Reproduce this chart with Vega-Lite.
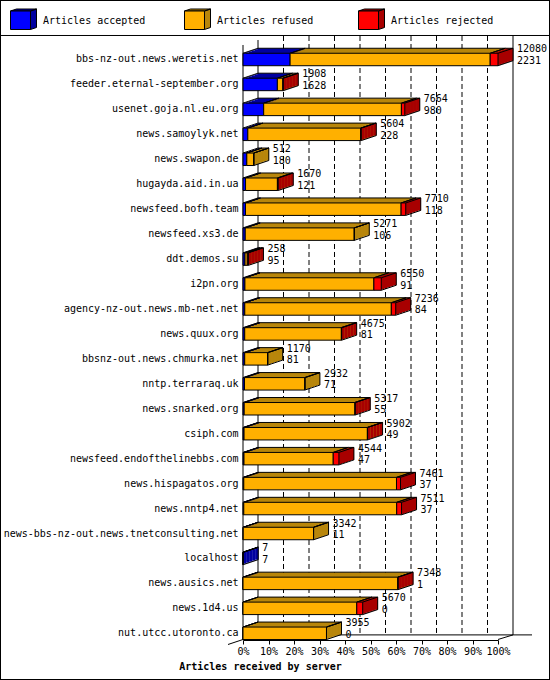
{
  "$schema": "https://vega.github.io/schema/vega-lite/v6.json",
  "width": 550,
  "height": 680,
  "autosize": {"type": "none"},
  "padding": 0,
  "background": "white",
  "datasets": {
    "servers": [
      {"server": "bbs-nz-out.news.weretis.net", "offered": 12080, "accepted": 2231, "refused": 9479, "rejected": 370},
      {"server": "feeder.eternal-september.org", "offered": 1908, "accepted": 1628, "refused": 260, "rejected": 20},
      {"server": "usenet.goja.nl.eu.org", "offered": 7664, "accepted": 980, "refused": 6524, "rejected": 160},
      {"server": "news.samoylyk.net", "offered": 5604, "accepted": 228, "refused": 5346, "rejected": 30},
      {"server": "news.swapon.de", "offered": 512, "accepted": 180, "refused": 332, "rejected": 0},
      {"server": "hugayda.aid.in.ua", "offered": 1670, "accepted": 121, "refused": 1509, "rejected": 40},
      {"server": "newsfeed.bofh.team", "offered": 7710, "accepted": 118, "refused": 7372, "rejected": 220},
      {"server": "newsfeed.xs3.de", "offered": 5271, "accepted": 106, "refused": 5165, "rejected": 0},
      {"server": "ddt.demos.su", "offered": 258, "accepted": 95, "refused": 110, "rejected": 53},
      {"server": "i2pn.org", "offered": 6550, "accepted": 91, "refused": 6109, "rejected": 350},
      {"server": "agency-nz-out.news.mb-net.net", "offered": 7236, "accepted": 84, "refused": 6942, "rejected": 210},
      {"server": "news.quux.org", "offered": 4675, "accepted": 81, "refused": 4579, "rejected": 15},
      {"server": "bbsnz-out.news.chmurka.net", "offered": 1170, "accepted": 81, "refused": 1089, "rejected": 0},
      {"server": "nntp.terraraq.uk", "offered": 2932, "accepted": 71, "refused": 2861, "rejected": 0},
      {"server": "news.snarked.org", "offered": 5317, "accepted": 55, "refused": 5247, "rejected": 15},
      {"server": "csiph.com", "offered": 5902, "accepted": 49, "refused": 5843, "rejected": 10},
      {"server": "newsfeed.endofthelinebbs.com", "offered": 4544, "accepted": 47, "refused": 4227, "rejected": 270},
      {"server": "news.hispagatos.org", "offered": 7461, "accepted": 37, "refused": 7234, "rejected": 190},
      {"server": "news.nntp4.net", "offered": 7511, "accepted": 37, "refused": 7244, "rejected": 230},
      {"server": "news-bbs-nz-out.news.tnetconsulting.net", "offered": 3342, "accepted": 11, "refused": 3331, "rejected": 0},
      {"server": "localhost", "offered": 7, "accepted": 7, "refused": 0, "rejected": 0},
      {"server": "news.ausics.net", "offered": 7348, "accepted": 1, "refused": 7332, "rejected": 15},
      {"server": "news.1d4.us", "offered": 5670, "accepted": 0, "refused": 5390, "rejected": 280},
      {"server": "nut.utcc.utoronto.ca", "offered": 3955, "accepted": 0, "refused": 3955, "rejected": 0}
    ]
  },
  "data": {"name": "servers"},
  "layer": [
    {
      "data": {"values": [{"a": -11511.5, "b": 14543.4}]},
      "mark": {"type": "rule", "color": "black", "yOffset": -24},
      "encoding": {
        "x": {"field": "a", "type": "quantitative"},
        "x2": {"field": "b"},
        "y": {"datum": "bbs-nz-out.news.weretis.net", "type": "nominal"}
      }
    },
    {
      "data": {"values": [{"v": 1208}, {"v": 2416}, {"v": 3624}, {"v": 4832}, {"v": 6040}, {"v": 7248}, {"v": 8456}, {"v": 9664}, {"v": 10872}]},
      "mark": {"type": "rule", "color": "black", "strokeDash": [5, 3], "xOffset": 15, "yOffset": -23.5, "y2Offset": 1.6},
      "encoding": {
        "x": {"field": "v", "type": "quantitative"},
        "y": {"datum": "bbs-nz-out.news.weretis.net", "type": "nominal"},
        "y2": {"datum": "nut.utcc.utoronto.ca"}
      }
    },
    {
      "data": {"values": [{"v": 0}]},
      "mark": {"type": "rule", "color": "black", "xOffset": 15, "yOffset": -19.5, "y2Offset": 1.6},
      "encoding": {
        "x": {"field": "v", "type": "quantitative"},
        "y": {"datum": "bbs-nz-out.news.weretis.net", "type": "nominal"},
        "y2": {"datum": "nut.utcc.utoronto.ca"}
      }
    },
    {
      "data": {"values": [{"v": 12080}]},
      "mark": {"type": "rule", "color": "black", "xOffset": 15, "yOffset": -23.5, "y2Offset": 1.6},
      "encoding": {
        "x": {"field": "v", "type": "quantitative"},
        "y": {"datum": "bbs-nz-out.news.weretis.net", "type": "nominal"},
        "y2": {"datum": "nut.utcc.utoronto.ca"}
      }
    },
    {
      "data": {"values": [{"a": 0, "b": 12080}]},
      "mark": {"type": "rule", "color": "black", "xOffset": 15, "x2Offset": 34, "yOffset": 1.6},
      "encoding": {
        "x": {"field": "a", "type": "quantitative"},
        "x2": {"field": "b"},
        "y": {"datum": "nut.utcc.utoronto.ca", "type": "nominal"}
      }
    },
    {
      "data": {"values": [{"v": 0}]},
      "mark": {"type": "rule", "color": "black", "yOffset": -14.5, "y2Offset": 6.2},
      "encoding": {
        "x": {"field": "v", "type": "quantitative"},
        "y": {"datum": "bbs-nz-out.news.weretis.net", "type": "nominal"},
        "y2": {"datum": "nut.utcc.utoronto.ca"}
      }
    },
    {
      "data": {"values": [{"v": 12080}]},
      "mark": {"type": "rule", "color": "black", "x2Offset": 15, "yOffset": 6.2, "y2Offset": 1.6},
      "encoding": {
        "x": {"field": "v", "type": "quantitative"},
        "x2": {"field": "v"},
        "y": {"datum": "nut.utcc.utoronto.ca", "type": "nominal"},
        "y2": {"datum": "nut.utcc.utoronto.ca"}
      }
    },
    {
      "data": {"values": [{"v": 0}]},
      "mark": {"type": "rule", "color": "black", "xOffset": -15, "x2Offset": 15, "yOffset": 11.2, "y2Offset": 1.2},
      "encoding": {
        "x": {"field": "v", "type": "quantitative"},
        "x2": {"field": "v"},
        "y": {"datum": "nut.utcc.utoronto.ca", "type": "nominal"},
        "y2": {"datum": "nut.utcc.utoronto.ca"}
      }
    },
    {
      "transform": [
        {"fold": ["accepted", "refused", "rejected"], "as": ["status", "count"]},
        {"stack": "count", "groupby": ["server"], "sort": [{"field": "status", "order": "ascending"}], "as": ["x0", "x1"]}
      ],
      "layer": [
        {
          "mark": {"type": "bar", "xOffset": 15, "x2Offset": 15, "yOffset": -5},
          "encoding": {
            "x": {"field": "x0", "type": "quantitative"},
            "x2": {"field": "x1"},
            "y": {"field": "server", "type": "nominal"},
            "fill": {
              "field": "status", "type": "nominal",
              "scale": {"domain": ["rejected", "refused", "accepted"], "range": ["#a80000", "#b8860b", "#0000a0"]},
              "legend": {
                "orient": "none", "legendX": 10, "legendY": 7, "direction": "horizontal",
                "columns": 3, "gridAlign": "all", "columnPadding": 36, "padding": 0,
                "title": null, "values": ["accepted", "refused", "rejected"],
                "symbolType": "M-1,-0.769L-0.538,-0.923L1,-0.923L0.538,-0.769ZM0.538,-0.769L1,-0.923L1,0.5L0.538,0.654Z",
                "symbolSize": 676, "symbolStrokeColor": "black", "symbolStrokeWidth": 1,
                "labelOffset": 6, "labelOpacity": 0, "labelExpr": "'Articles ' + datum.label"
              }
            }
          }
        },
        {
          "transform": [{"filter": "datum.count > 0"}],
          "mark": {"type": "bar", "xOffset": 12, "x2Offset": 15, "yOffset": -5},
          "encoding": {
            "x": {"field": "x1", "type": "quantitative"},
            "x2": {"field": "x1"},
            "y": {"field": "server", "type": "nominal"},
            "fill": {"field": "status", "type": "nominal"}
          }
        },
        {
          "mark": {"type": "bar", "xOffset": 12, "x2Offset": 12, "yOffset": -4},
          "encoding": {
            "x": {"field": "x0", "type": "quantitative"},
            "x2": {"field": "x1"},
            "y": {"field": "server", "type": "nominal"},
            "fill": {"field": "status", "type": "nominal"}
          }
        },
        {
          "transform": [{"filter": "datum.count > 0"}],
          "mark": {"type": "bar", "xOffset": 9, "x2Offset": 12, "yOffset": -4},
          "encoding": {
            "x": {"field": "x1", "type": "quantitative"},
            "x2": {"field": "x1"},
            "y": {"field": "server", "type": "nominal"},
            "fill": {"field": "status", "type": "nominal"}
          }
        },
        {
          "mark": {"type": "bar", "xOffset": 9, "x2Offset": 9, "yOffset": -3},
          "encoding": {
            "x": {"field": "x0", "type": "quantitative"},
            "x2": {"field": "x1"},
            "y": {"field": "server", "type": "nominal"},
            "fill": {"field": "status", "type": "nominal"}
          }
        },
        {
          "transform": [{"filter": "datum.count > 0"}],
          "mark": {"type": "bar", "xOffset": 6, "x2Offset": 9, "yOffset": -3},
          "encoding": {
            "x": {"field": "x1", "type": "quantitative"},
            "x2": {"field": "x1"},
            "y": {"field": "server", "type": "nominal"},
            "fill": {"field": "status", "type": "nominal"}
          }
        },
        {
          "mark": {"type": "bar", "xOffset": 6, "x2Offset": 6, "yOffset": -2},
          "encoding": {
            "x": {"field": "x0", "type": "quantitative"},
            "x2": {"field": "x1"},
            "y": {"field": "server", "type": "nominal"},
            "fill": {"field": "status", "type": "nominal"}
          }
        },
        {
          "transform": [{"filter": "datum.count > 0"}],
          "mark": {"type": "bar", "xOffset": 3, "x2Offset": 6, "yOffset": -2},
          "encoding": {
            "x": {"field": "x1", "type": "quantitative"},
            "x2": {"field": "x1"},
            "y": {"field": "server", "type": "nominal"},
            "fill": {"field": "status", "type": "nominal"}
          }
        },
        {
          "mark": {"type": "bar", "xOffset": 3, "x2Offset": 3, "yOffset": -1},
          "encoding": {
            "x": {"field": "x0", "type": "quantitative"},
            "x2": {"field": "x1"},
            "y": {"field": "server", "type": "nominal"},
            "fill": {"field": "status", "type": "nominal"}
          }
        },
        {
          "transform": [{"filter": "datum.count > 0"}],
          "mark": {"type": "bar", "xOffset": 0, "x2Offset": 3, "yOffset": -1},
          "encoding": {
            "x": {"field": "x1", "type": "quantitative"},
            "x2": {"field": "x1"},
            "y": {"field": "server", "type": "nominal"},
            "fill": {"field": "status", "type": "nominal"}
          }
        },
        {
          "mark": {"type": "rule", "color": "black", "xOffset": 15, "x2Offset": 15, "yOffset": -11.24},
          "encoding": {
            "x": {"field": "x0", "type": "quantitative"},
            "x2": {"field": "x1"},
            "y": {"field": "server", "type": "nominal"}
          }
        },
        {
          "mark": {"type": "rule", "color": "black", "x2Offset": 15, "yOffset": -6.24, "y2Offset": -11.24},
          "encoding": {
            "x": {"field": "x0", "type": "quantitative"},
            "x2": {"field": "x0"},
            "y": {"field": "server", "type": "nominal"},
            "y2": {"field": "server"}
          }
        },
        {
          "mark": {"type": "rule", "color": "black", "x2Offset": 15, "yOffset": -6.24, "y2Offset": -11.24},
          "encoding": {
            "x": {"field": "x1", "type": "quantitative"},
            "x2": {"field": "x1"},
            "y": {"field": "server", "type": "nominal"},
            "y2": {"field": "server"}
          }
        },
        {
          "mark": {"type": "bar", "stroke": "black", "strokeWidth": 1},
          "encoding": {
            "x": {
              "field": "x0", "type": "quantitative",
              "scale": {"domain": [0, 12080], "range": [243, 498], "nice": false, "zero": false},
              "axis": {
                "orient": "bottom", "offset": -40, "domain": true, "domainColor": "black", "grid": false,
                "ticks": true, "tickSize": 4, "tickColor": "black",
                "values": [0, 1208, 2416, 3624, 4832, 6040, 7248, 8456, 9664, 10872, 12080],
                "labelExpr": "round(datum.value / 120.8) + '%'",
                "labelOverlap": false, "labelFlush": false,
                "labelPadding": 2,
                "title": "Articles received by server",
                "titleFontWeight": "bold", "titleX": 260, "titleY": 29,
                "titleBaseline": "alphabetic", "titleAlign": "center"
              }
            },
            "x2": {"field": "x1"},
            "y": {
              "field": "server", "type": "nominal",
              "scale": {
                "type": "band",
                "domain": ["bbs-nz-out.news.weretis.net", "feeder.eternal-september.org", "usenet.goja.nl.eu.org", "news.samoylyk.net", "news.swapon.de", "hugayda.aid.in.ua", "newsfeed.bofh.team", "newsfeed.xs3.de", "ddt.demos.su", "i2pn.org", "agency-nz-out.news.mb-net.net", "news.quux.org", "bbsnz-out.news.chmurka.net", "nntp.terraraq.uk", "news.snarked.org", "csiph.com", "newsfeed.endofthelinebbs.com", "news.hispagatos.org", "news.nntp4.net", "news-bbs-nz-out.news.tnetconsulting.net", "localhost", "news.ausics.net", "news.1d4.us", "nut.utcc.utoronto.ca"],
                "range": [47.02, 645.77],
                "paddingInner": 0.5, "paddingOuter": 0.25, "align": 0.5
              },
              "axis": {"orient": "left", "offset": -243, "domain": false, "ticks": false, "grid": false, "labelPadding": 5, "labelLimit": 400, "title": null}
            },
            "color": {
              "field": "status", "type": "nominal",
              "scale": {"domain": ["accepted", "refused", "rejected"], "range": ["#0000ff", "#ffb000", "#ff0000"]},
              "legend": {
                "orient": "none", "legendX": 10, "legendY": 7, "direction": "horizontal",
                "columns": 3, "gridAlign": "all", "columnPadding": 36, "padding": 0,
                "title": null,
                "symbolType": "M-1,-0.769L0.538,-0.769L0.538,0.654L-1,0.654Z",
                "symbolSize": 676, "symbolStrokeColor": "black", "symbolStrokeWidth": 1,
                "labelOffset": 6, "labelExpr": "'Articles ' + datum.label"
              }
            }
          }
        }
      ]
    },
    {
      "mark": {"type": "rule", "color": "black", "xOffset": 15, "yOffset": -11.24, "y2Offset": 1.24},
      "encoding": {
        "x": {"field": "offered", "type": "quantitative"},
        "y": {"field": "server", "type": "nominal"},
        "y2": {"field": "server"}
      }
    },
    {
      "mark": {"type": "rule", "color": "black", "x2Offset": 15, "yOffset": 6.24, "y2Offset": 1.24},
      "encoding": {
        "x": {"field": "offered", "type": "quantitative"},
        "x2": {"field": "offered"},
        "y": {"field": "server", "type": "nominal"},
        "y2": {"field": "server"}
      }
    },
    {
      "mark": {"type": "text", "align": "left", "baseline": "middle", "dx": 19, "dy": -10, "color": "black", "fontSize": 10, "font": "DejaVu Sans Mono"},
      "encoding": {
        "x": {"field": "offered", "type": "quantitative"},
        "y": {"field": "server", "type": "nominal"},
        "text": {"field": "offered", "type": "nominal"}
      }
    },
    {
      "mark": {"type": "text", "align": "left", "baseline": "middle", "dx": 19, "dy": 1.5, "color": "black", "fontSize": 10, "font": "DejaVu Sans Mono"},
      "encoding": {
        "x": {"field": "offered", "type": "quantitative"},
        "y": {"field": "server", "type": "nominal"},
        "text": {"field": "accepted", "type": "nominal"}
      }
    }
  ],
  "config": {
    "font": "DejaVu Sans Mono",
    "view": {"stroke": "black", "strokeWidth": 2},
    "axis": {
      "grid": false,
      "labelFont": "DejaVu Sans Mono", "labelFontSize": 10, "labelColor": "black",
      "titleFont": "DejaVu Sans Mono", "titleFontSize": 10, "titleColor": "black"
    },
    "legend": {
      "labelFont": "DejaVu Sans Mono", "labelFontSize": 10, "labelColor": "black"
    }
  }
}
